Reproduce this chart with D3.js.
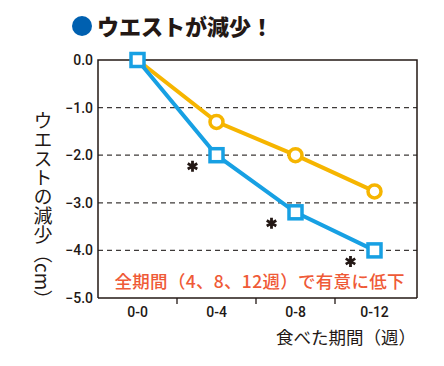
<!DOCTYPE html>
<html>
<head>
<meta charset="utf-8">
<script src="https://cdn.jsdelivr.net/npm/d3@7"></script>
<style>
  body { margin: 0; background: #fff; }
  text { fill: #231815; }
  .jp { font-family: "Noto Sans CJK JP", sans-serif; }
</style>
</head>
<body>
<div id="chart"></div>
<script>
// data
var periods = ["0-0", "0-4", "0-8", "0-12"]
var yellowValues = [0, -1.3, -2.0, -2.76]
var blueValues = [0, -2.0, -3.2, -4.0]
var significant = [false, true, true, true]
var yTicks = [0, -1, -2, -3, -4, -5]

var margin = {top: 60, right: 27, bottom: 68, left: 98},
    width = 444 - margin.left - margin.right,
    height = 366 - margin.top - margin.bottom;

var x = d3.scaleBand()
    .domain(periods)
    .range([0, 316]);

var y = d3.scaleLinear()
    .domain([-5, 0])
    .range([height, 0]);

var svgRoot = d3.select("#chart").append("svg")
    .attr("width", 444)
    .attr("height", 366)

var svg = svgRoot.append("g")
    .attr("transform", "translate(" + margin.left + "," + margin.top + ")");

// title
svgRoot.append("circle")
    .attr("cx", 82).attr("cy", 26).attr("r", 10)
    .attr("fill", "#0060b0")
svgRoot.append("text")
    .attr("class", "jp")
    .attr("x", 97).attr("y", 35)
    .attr("font-size", 22)
    .attr("font-weight", 900)
    .text("ウエストが減少！")

// dashed grid
svg.selectAll(".grid")
    .data(yTicks.filter(function(d) { return d < 0 && d > -5; }))
    .enter().append("line")
    .attr("x1", 0).attr("x2", width)
    .attr("y1", function(d) { return y(d); })
    .attr("y2", function(d) { return y(d); })
    .attr("stroke", "#3e3a39")
    .attr("stroke-width", 1.2)
    .attr("stroke-dasharray", "5,4")

// frame
svg.append("path")
    .attr("d", "M0," + height + "V0H" + width + "V" + height)
    .attr("fill", "none")
    .attr("stroke", "#231815")
    .attr("stroke-width", 1.5)

// y axis
var yAxis = svg.append("g")
    .call(d3.axisLeft(y).tickValues(yTicks).tickSize(0).tickPadding(5)
        .tickFormat(d3.format(".1f")))
yAxis.select(".domain").remove()
yAxis.selectAll("text")
    .style("font-size", "14px")
    .style("font-weight", 500)
    .style("font-family", "Roboto, sans-serif")
    .style("fill", "#231815")

// x axis
var xAxis = svg.append("g")
    .attr("transform", "translate(0," + height + ")")
    .call(d3.axisBottom(x).tickSize(0).tickPadding(9))
xAxis.select(".domain")
    .attr("d", "M0,0H" + width)
    .attr("stroke", "#231815")
    .attr("stroke-width", 1.5)
xAxis.selectAll("text")
    .style("font-size", "14px")
    .style("font-weight", 500)
    .style("font-family", "Roboto, sans-serif")
    .style("fill", "#231815")

// band separators on x axis
svg.selectAll(".sep")
    .data(periods.slice(1))
    .enter().append("line")
    .attr("x1", function(d) { return x(d); })
    .attr("x2", function(d) { return x(d); })
    .attr("y1", height).attr("y2", height + 6)
    .attr("stroke", "#231815")
    .attr("stroke-width", 1.3)

var cx = function(d, i) { return x(periods[i]) + x.bandwidth() / 2; }

var line = d3.line()
    .x(function(d, i) { return x(periods[i]) + x.bandwidth() / 2; })
    .y(function(d) { return y(d); })

// yellow series
svg.append("path")
    .datum(yellowValues)
    .attr("d", line)
    .attr("fill", "none")
    .attr("stroke", "#f6b500")
    .attr("stroke-width", 4)

svg.selectAll(".ydot")
    .data(yellowValues)
    .enter().filter(function(d, i) { return i > 0; })
    .append("circle")
    .attr("cx", function(d) { return x(periods[yellowValues.indexOf(d)]) + x.bandwidth() / 2; })
    .attr("cy", function(d) { return y(d); })
    .attr("r", 6.5)
    .attr("fill", "#fff")
    .attr("stroke", "#f6b500")
    .attr("stroke-width", 3.5)

// blue series
svg.append("path")
    .datum(blueValues)
    .attr("d", line)
    .attr("fill", "none")
    .attr("stroke", "#17a0e3")
    .attr("stroke-width", 4)

svg.selectAll(".bsq")
    .data(blueValues)
    .enter().append("rect")
    .attr("x", function(d, i) { return cx(d, i) - 6.5; })
    .attr("y", function(d) { return y(d) - 6.5; })
    .attr("width", 13)
    .attr("height", 13)
    .attr("fill", "#fff")
    .attr("stroke", "#17a0e3")
    .attr("stroke-width", 3.5)

// significance asterisks
svg.selectAll(".star")
    .data(blueValues)
    .enter().filter(function(d, i) { return significant[i]; })
    .append("path")
    .attr("d", d3.symbol().type(d3.symbolAsterisk).size(85))
    .attr("transform", function(d) {
        var i = blueValues.indexOf(d);
        return "translate(" + (cx(d, i) - 24) + "," + (y(d) + 11) + ")";
    })
    .attr("fill", "none")
    .attr("stroke", "#231815")
    .attr("stroke-width", 2.8)

// note
svg.append("text")
    .attr("class", "jp")
    .attr("x", width / 2 + 2)
    .attr("y", height - 10)
    .attr("text-anchor", "middle")
    .attr("font-size", 17.5)
    .attr("font-weight", 500)
    .attr("textLength", 290)
    .style("fill", "#ef5a37")
    .text("全期間（4、8、12週）で有意に低下")

// axis titles
svgRoot.append("text")
    .attr("class", "jp")
    .attr("x", 416)
    .attr("y", 344)
    .attr("text-anchor", "end")
    .attr("font-size", 17.5)
    .text("食べた期間（週）")

svgRoot.append("text")
    .attr("class", "jp")
    .attr("x", 43)
    .attr("y", 111)
    .attr("font-size", 19)
    .style("writing-mode", "vertical-rl")
    .text("ウエストの減少（cm）")
</script>
</body>
</html>
